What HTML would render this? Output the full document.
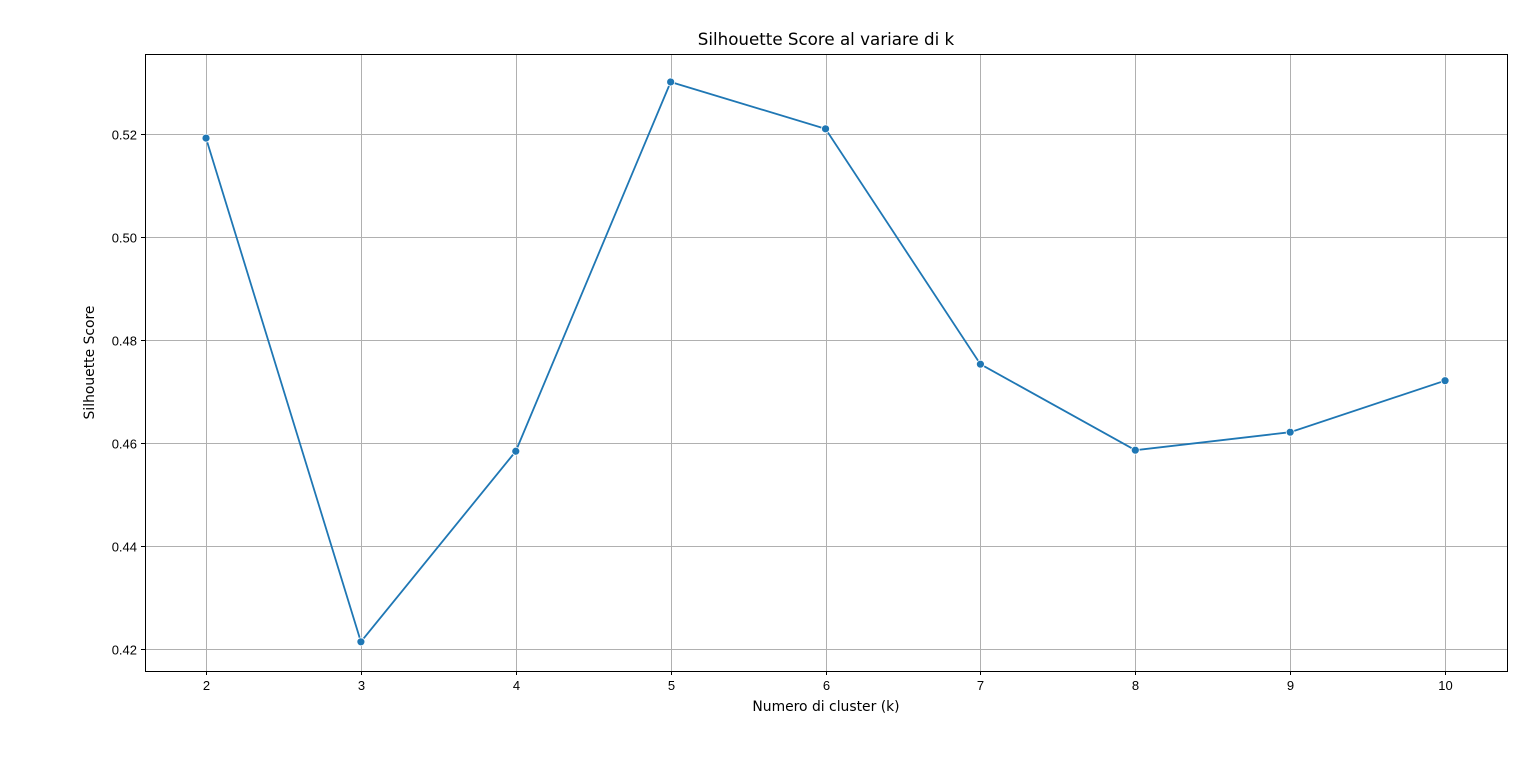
<!DOCTYPE html>
<html><head><meta charset="utf-8">
<style>
html,body{margin:0;padding:0;background:#fff;}
svg{display:block;font-family:"Liberation Sans","DejaVu Sans",sans-serif;}
.dv{font-family:"DejaVu Sans","Liberation Sans",sans-serif;}
</style></head>
<body>
<svg id="chart" width="1536" height="759" viewBox="0 0 1536 759">
<rect x="0" y="0" width="1536" height="759" fill="#fff"/>
<g id="grid"></g>
<g id="ticks"></g>
<g id="series"></g>
<rect x="145.5" y="54.5" width="1362" height="617" fill="none" stroke="#000" stroke-width="1"/>
<text class="dv" x="826" y="45" text-anchor="middle" font-size="16.7">Silhouette Score al variare di k</text>
<text class="dv" x="826" y="711" text-anchor="middle" font-size="13.9">Numero di cluster (k)</text>
<text class="dv" transform="translate(94,362.5) rotate(-90)" text-anchor="middle" font-size="13.9">Silhouette Score</text>
</svg>
<script>
const categories = [2,3,4,5,6,7,8,9,10];
const scores = [0.5192,0.4214,0.4584,0.5301,0.5210,0.4753,0.4586,0.4621,0.4721];
const xTicks = [2,3,4,5,6,7,8,9,10];
const yTicks = [0.42,0.44,0.46,0.48,0.50,0.52];
const yTickLabels = ["0.42","0.44","0.46","0.48","0.50","0.52"];

const L=145,R=1507,T=54,B=671;
const xMin=1.606,xMax=10.4,yMin=0.41573,yMax=0.53553;
function xs(v){return L+(v-xMin)/(xMax-xMin)*(R-L);}
function ys(v){return B-(v-yMin)/(yMax-yMin)*(B-T);}
const NS="http://www.w3.org/2000/svg";
function mk(tag,attrs,parent){const e=document.createElementNS(NS,tag);for(const k in attrs)e.setAttribute(k,attrs[k]);parent.appendChild(e);return e;}
const grid=document.getElementById('grid'),ticks=document.getElementById('ticks'),series=document.getElementById('series');
xTicks.forEach(t=>{
  const x=Math.round(xs(t))+0.5;
  const g=mk('line',{x1:x,x2:x,y1:T,y2:B,stroke:'#b0b0b0','stroke-width':1},grid);
  
  
  const tk=mk('line',{x1:x,x2:x,y1:B,y2:B+4,stroke:'#000'},ticks);
  
  
  const tx=mk('text',{x:x,y:B+19,'text-anchor':'middle','font-size':13},ticks);
  tx.textContent=t;
  
  
});
yTicks.forEach((t,i)=>{
  const y=Math.round(ys(t))+0.5;
  const g=mk('line',{x1:L,x2:R,y1:y,y2:y,stroke:'#b0b0b0','stroke-width':1},grid);
  
  
  const tk=mk('line',{x1:L-4,x2:L,y1:y,y2:y,stroke:'#000'},ticks);
  
  
  const tx=mk('text',{x:L-8,y:y+5,'text-anchor':'end','font-size':13},ticks);
  tx.textContent=yTickLabels[i];
  
  
});
const pts=categories.map((c,i)=>xs(c)+','+ys(scores[i])).join(' ');
const pl=mk('polyline',{points:pts,fill:'none',stroke:'#1f77b4','stroke-width':1.8},series);


categories.forEach((c,i)=>{
  const p=mk('circle',{cx:xs(c),cy:ys(scores[i]),r:4,fill:'#1f77b4',stroke:'#fff','stroke-width':0.8},series);
  
  
});
</script>
</body></html>
